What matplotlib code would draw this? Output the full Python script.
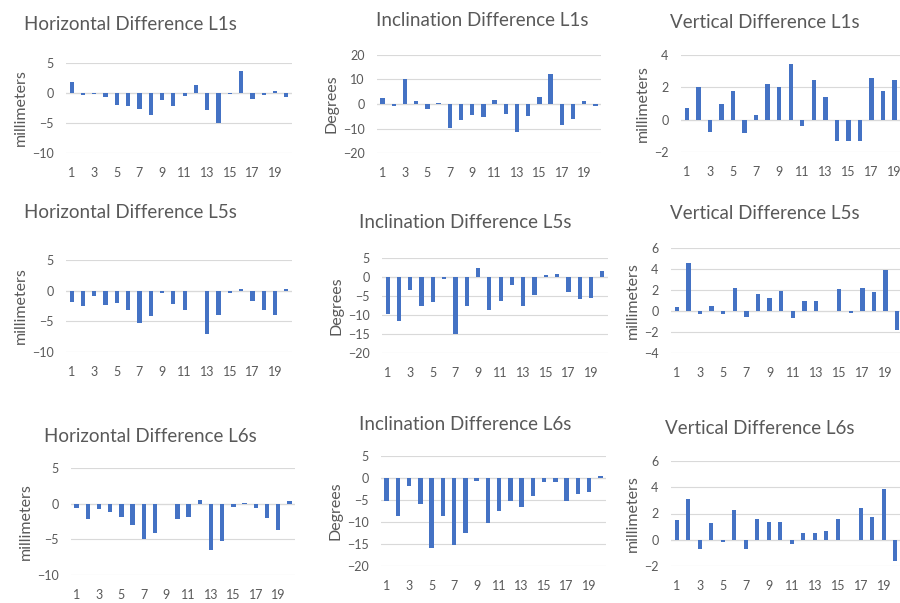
import matplotlib
matplotlib.use("Agg")
import numpy as np
import matplotlib.pyplot as plt

plt.rcParams["font.family"] = ["Lato", "DejaVu Sans"]

W, H = 900, 603

categories = list(range(1, 21))
x_tick_labels = [1, 3, 5, 7, 9, 11, 13, 15, 17, 19]

horizontal_l1s = [1.9, -0.3, -0.1, -0.6, -2.0, -2.1, -2.6, -3.7, -1.2, -2.1,
                  -0.5, 1.4, -2.8, -5.0, -0.2, 3.6, -1.0, -0.4, 0.3, -0.6]
inclination_l1s = [2.4, -0.8, 10.0, 1.2, -2.0, 0.4, -9.8, -6.5, -4.3, -5.5,
                   1.8, -4.0, -11.5, -4.8, 3.0, 12.2, -8.5, -6.2, 1.4, -1.0]
vertical_l1s = [0.75, 2.0, -0.75, 1.0, 1.8, -0.85, 0.3, 2.2, 2.05, 3.45,
                -0.4, 2.45, 1.4, -1.3, -1.3, -1.3, 2.6, 1.75, 2.45, 1.0]

horizontal_l5s = [-1.8, -2.5, -0.8, -2.3, -2.0, -3.2, -5.3, -4.2, -0.3, -2.2,
                  -3.2, 0.0, -7.0, -3.9, -0.4, 0.2, -1.7, -3.1, -3.9, 0.2]
inclination_l5s = [-9.8, -11.6, -3.3, -7.6, -6.6, -0.6, -15.0, -7.6, 2.4, -8.6,
                   -6.4, -2.2, -7.6, -4.7, 0.4, 0.9, -3.9, -5.7, -5.4, 1.6]
vertical_l5s = [0.4, 4.6, -0.3, 0.5, -0.3, 2.2, -0.6, 1.6, 1.2, 1.9,
                -0.7, 0.95, 0.95, 0.0, 2.1, -0.2, 2.2, 1.8, 3.9, -1.8]

horizontal_l6s = [-0.6, -2.2, -0.8, -1.1, -1.9, -3.0, -4.9, -4.1, 0.0, -2.1,
                  -1.8, 0.5, -6.5, -5.3, -0.4, 0.1, -0.6, -2.0, -3.7, 0.4]
inclination_l6s = [-5.3, -8.6, -1.8, -5.8, -16.0, -8.6, -15.3, -12.6, -0.7, -10.3,
                   -7.6, -5.3, -6.7, -4.0, -0.8, -0.8, -5.3, -3.6, -3.2, 0.5]
vertical_l6s = [1.5, 3.1, -0.7, 1.3, -0.2, 2.3, -0.7, 1.6, 1.35, 1.35,
                -0.3, 0.55, 0.5, 0.7, 1.6, 0.0, 2.4, 1.7, 3.85, -1.6]

BAR = "#4472C4"
GRID = "#D9D9D9"
TXT = "#595959"

# (title, values, ylabel, ymin, ymax, step, plot box px [left, right, top, bottom], title px [x, y])
panels = [
    ("Horizontal Difference L1s", horizontal_l1s, "millimeters", -10, 5, 5, [66, 292, 63, 153], [130, 25]),
    ("Inclination Difference L1s", inclination_l1s, "Degrees", -20, 20, 10, [377, 601, 55, 153], [482, 20]),
    ("Vertical Difference L1s", vertical_l1s, "millimeters", -2, 4, 2, [681, 912, 55, 152], [765, 22]),
    ("Horizontal Difference L5s", horizontal_l5s, "millimeters", -10, 5, 5, [66, 292, 260, 352], [130, 212]),
    ("Inclination Difference L5s", inclination_l5s, "Degrees", -20, 5, 5, [382, 608, 258, 353], [465, 222]),
    ("Vertical Difference L5s", vertical_l5s, "millimeters", -4, 6, 2, [671, 903, 248, 353], [765, 213]),
    ("Horizontal Difference L6s", horizontal_l6s, "millimeters", -10, 5, 5, [71, 295, 468, 575], [150, 437]),
    ("Inclination Difference L6s", inclination_l6s, "Degrees", -20, 5, 5, [381, 606, 456, 566], [465, 425]),
    ("Vertical Difference L6s", vertical_l6s, "millimeters", -2, 6, 2, [671, 901, 461, 566], [760, 428]),
]

fig = plt.figure(figsize=(W / 100, H / 100), dpi=100)

for title, vals, ylab, ymin, ymax, step, box, tpos in panels:
    l, r, t, b = box
    ax = fig.add_axes([l / W, 1 - b / H, (r - l) / W, (b - t) / H])
    ax.set_facecolor("none")
    ax.bar(categories, vals, width=0.38, color=BAR, zorder=3)
    ax.set_xlim(0.5, 20.5)
    ax.set_ylim(ymin, ymax)
    ax.set_yticks(np.arange(ymin, ymax + step / 2, step))
    ax.set_xticks(x_tick_labels)
    ax.set_xticklabels([str(v) for v in x_tick_labels])
    ax.grid(axis="y", color=GRID, linewidth=0.8, zorder=0)
    ax.axhline(0, color=GRID, linewidth=0.9, zorder=1)
    for s in ax.spines.values():
        s.set_visible(False)
    ax.tick_params(axis="both", length=0, labelsize=9, colors=TXT)
    ax.tick_params(axis="y", pad=9)
    ax.tick_params(axis="x", pad=10)
    ax.set_ylabel(ylab, fontsize=11.5, color=TXT, labelpad=3)
    fig.text(tpos[0] / W, 1 - tpos[1] / H, title, fontsize=13.5, color=TXT,
             ha="center", va="center")

fig.savefig("out.png", dpi=100)
